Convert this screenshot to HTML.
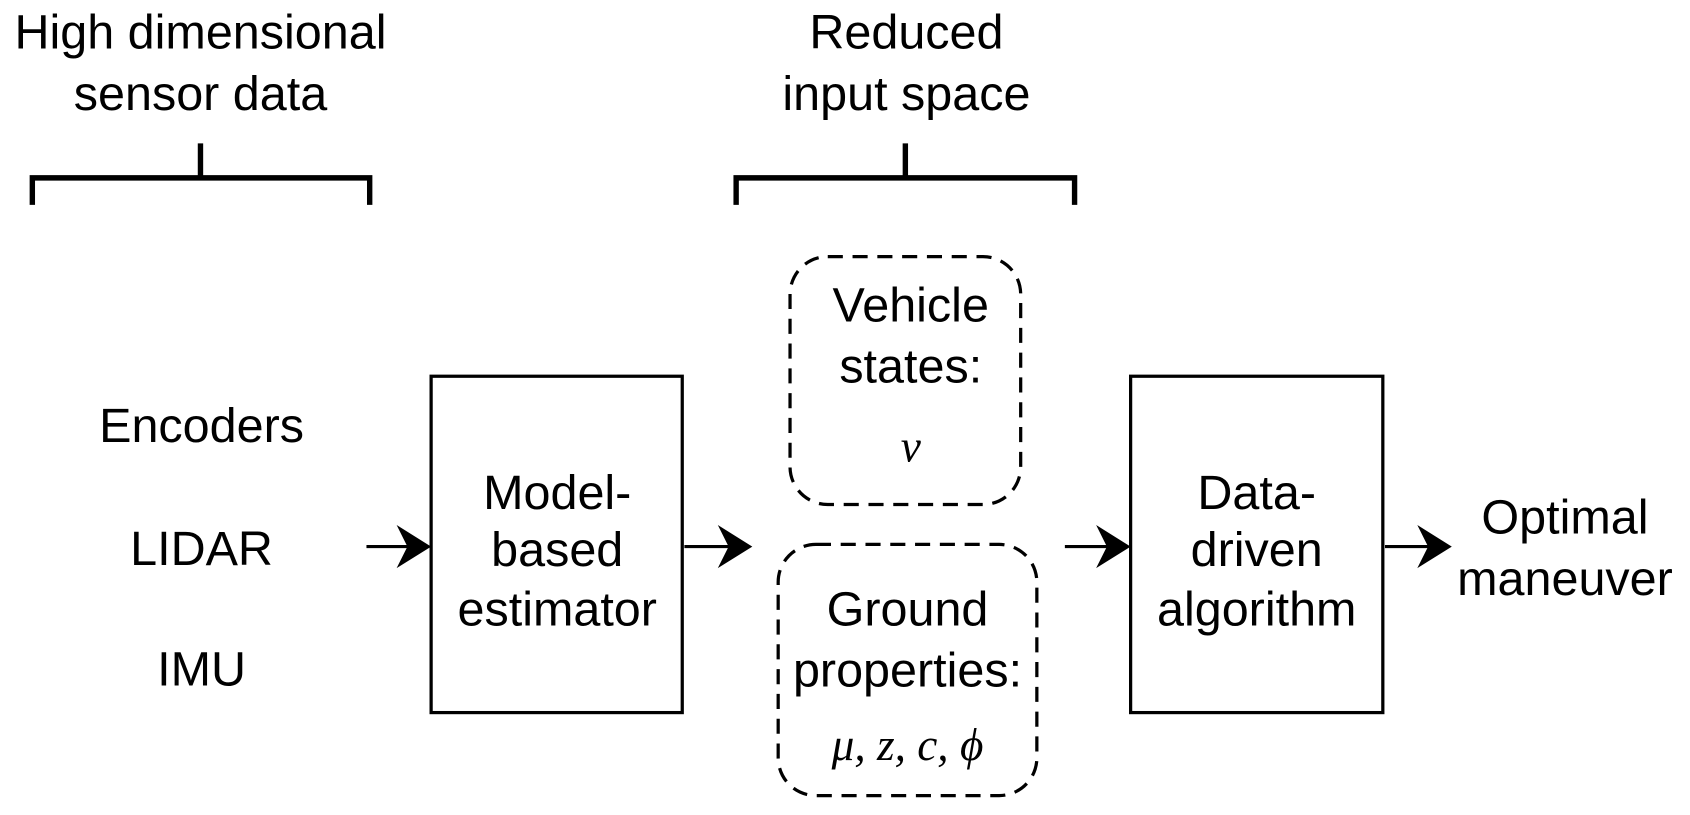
<!DOCTYPE html>
<html><head><meta charset="utf-8"><style>
html,body{margin:0;padding:0;background:#fff;}
svg{display:block;}
text{font-family:"Liberation Sans",sans-serif;font-size:45px;fill:#000;text-anchor:middle;}
.m{font-family:"Liberation Serif",serif;font-style:italic;font-size:42px;}
</style></head><body>
<svg width="1690" height="815" viewBox="0 0 1568 756" preserveAspectRatio="none" xmlns="http://www.w3.org/2000/svg">
<text x="186" y="45">High dimensional</text>
<text x="186" y="102">sensor data</text>
<text x="841" y="45">Reduced</text>
<text x="841" y="102">input space</text>
<g fill="none" stroke="#000" stroke-width="5">
<path d="M186 133V165M30 190V165H343V190"/>
<path d="M840 133V165M683 190V165H997V190"/>
</g>
<g fill="none" stroke="#000" stroke-width="3" stroke-dasharray="14 9">
<rect x="733" y="238" width="214" height="230" rx="35"/>
<rect x="722" y="505" width="240" height="233" rx="35"/>
</g>
<g fill="none" stroke="#000" stroke-width="3">
<rect x="400" y="349" width="233" height="312"/>
<rect x="1049" y="349" width="234" height="312"/>
<path d="M340 507H385M635 507H680M988 507H1034M1285 507H1330"/>
</g>
<g fill="#000">
<path d="M400 507L368 487L378 507L368 527Z"/>
<path d="M698 507L666 487L676 507L666 527Z"/>
<path d="M1049 507L1017 487L1027 507L1017 527Z"/>
<path d="M1347 507L1315 487L1325 507L1315 527Z"/>
</g>
<text x="187" y="410">Encoders</text>
<text x="187" y="524">LIDAR</text>
<text x="187" y="636">IMU</text>
<text x="517" y="472">Model-</text>
<text x="517" y="525">based</text>
<text x="517" y="580">estimator</text>
<text x="1166" y="472">Data-</text>
<text x="1166" y="525">driven</text>
<text x="1166" y="580">algorithm</text>
<text x="1452" y="495">Optimal</text>
<text x="1452" y="552">maneuver</text>
<text x="845" y="298">Vehicle</text>
<text x="845" y="355">states:</text>
<text x="845" y="428" class="m">v</text>
<text x="842" y="580">Ground</text>
<text x="842" y="637">properties:</text>
<text x="842" y="705" class="m">μ, z, c, ϕ</text>
</svg>
</body></html>
